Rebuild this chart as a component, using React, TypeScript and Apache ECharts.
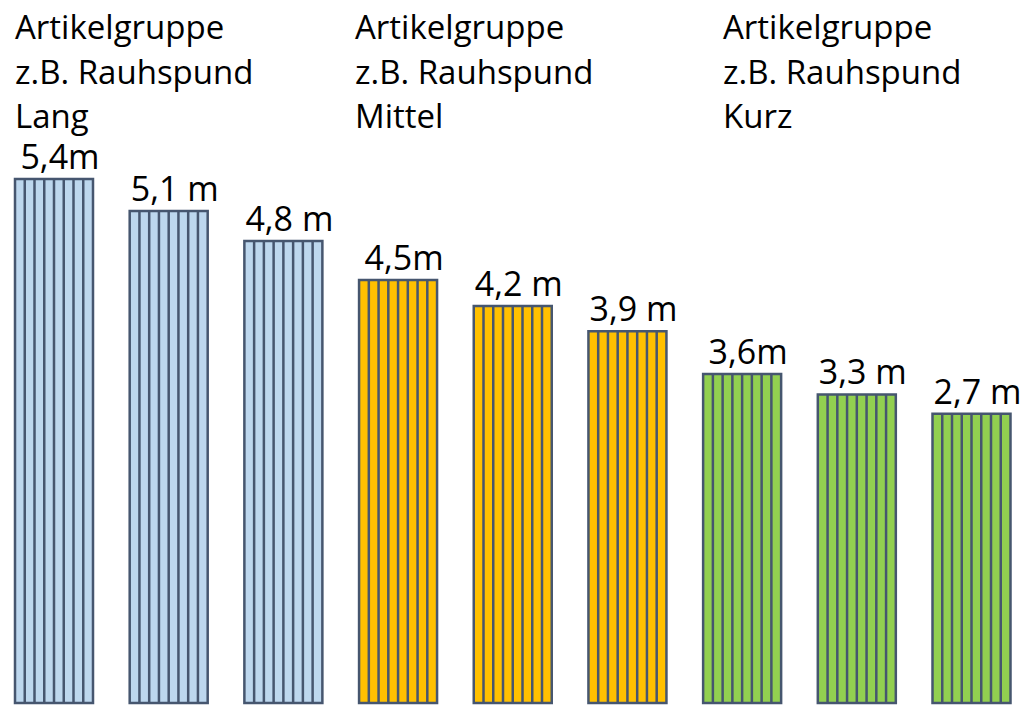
import React, { useEffect, useRef } from "react";
import * as echarts from "echarts";

const lengthLabels = ["5,4m", "5,1 m", "4,8 m", "4,5m", "4,2 m", "3,9 m", "3,6m", "3,3 m", "2,7 m"];
// visual bar heights as drawn (same unit as the tallest bar, 5.4)
const barHeights = [5.4, 5.07, 4.76, 4.36, 4.09, 3.83, 3.39, 3.18, 2.98];
const barGroup = [0, 0, 0, 1, 1, 1, 2, 2, 2];
const groupNames = ["Lang", "Mittel", "Kurz"];
const groupColors = ["#bdd7ee", "#ffc000", "#92d050"];
const titleLine1 = "Artikelgruppe";
const titleLine2 = "z.B. Rauhspund";

const FONT = "'Open Sans', 'Noto Sans', sans-serif";
const STROKE = "#46566f";

export default function App() {
  const ref = useRef<HTMLDivElement>(null);
  useEffect(() => {
    if (!ref.current) return;
    const chart = echarts.init(ref.current, null, { renderer: "svg" });
    const titleX = [15, 355, 723];
    const lineY = [26, 71, 115];
    const graphics: any[] = [];
    groupNames.forEach((g, gi) => {
      [titleLine1, titleLine2, g].forEach((t, li) => {
        graphics.push({
          type: "text",
          x: titleX[gi],
          y: lineY[li],
          style: {
            text: t,
            fontSize: 33,
            lineHeight: 34,
            fontFamily: FONT,
            fill: "#000",
            textAlign: "left",
            textVerticalAlign: "middle",
          },
        });
      });
    });
    chart.setOption({
      animation: false,
      grid: { left: 54, right: 56.5, top: 179, bottom: 2 },
      xAxis: {
        type: "category",
        data: lengthLabels,
        boundaryGap: false,
        show: false,
      },
      yAxis: { type: "value", min: 0, max: 5.4, show: false },
      graphic: graphics,
      series: [
        {
          type: "custom",
          data: barHeights.map((h, i) => [i, h]),
          renderItem: (params: any, api: any) => {
            const i = params.dataIndex;
            const v = api.value(1);
            const top = api.coord([i, v]);
            const base = api.coord([i, 0]);
            const w = 78;
            const left = top[0] - w / 2;
            const h = base[1] - top[1];
            const children: any[] = [
              {
                type: "rect",
                shape: { x: left, y: top[1], width: w, height: h },
                style: { fill: groupColors[barGroup[i]], stroke: STROKE, lineWidth: 2.5 },
              },
            ];
            for (let k = 1; k < 8; k++) {
              const x = left + (k * w) / 8;
              children.push({
                type: "line",
                shape: { x1: x, y1: top[1], x2: x, y2: base[1] },
                style: { stroke: STROKE, lineWidth: 2.5 },
              });
            }
            children.push({
              type: "text",
              x: top[0] + 6,
              y: top[1] - 23,
              style: {
                text: lengthLabels[i],
                fontSize: 34,
                lineHeight: 34,
                fontFamily: FONT,
                fill: "#000",
                textAlign: "center",
                textVerticalAlign: "middle",
              },
            });
            return { type: "group", children };
          },
        },
      ],
    });
    return () => chart.dispose();
  }, []);
  return (
    <div
      ref={ref}
      style={{ position: "fixed", left: 0, top: 0, width: 1028, height: 705, background: "#fff" }}
    />
  );
}
